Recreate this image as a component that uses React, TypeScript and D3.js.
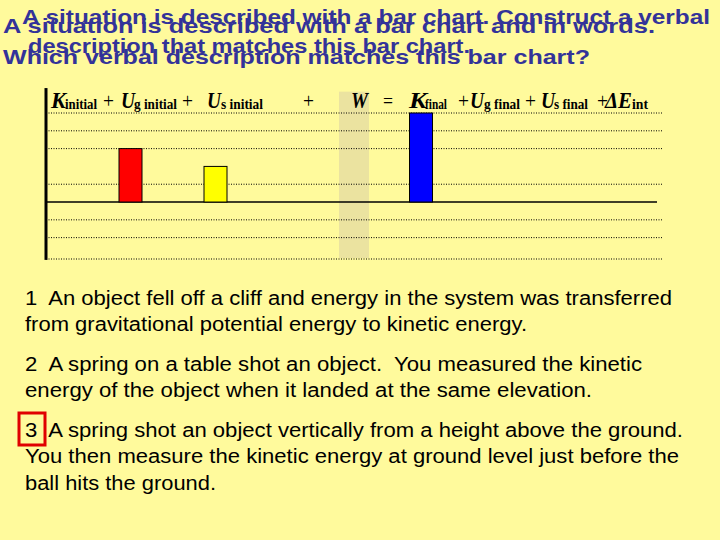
import React, { useRef, useEffect } from 'react';
import * as d3 from 'd3';

// energy bar chart data
const categories = ['Ki', 'Ugi', 'Usi', 'W', 'Kf', 'Ugf', 'Usf', 'dEint'];
const energyValues = [0, 3, 2, 0, 5, 0, 0, 0];
const barColors = ['#ff0000', '#ff0000', '#ffff00', '#000000', '#0000ff', '#000000', '#000000', '#000000'];
const gridValues = [5, 4, 3, 1, -1, -2, -3.2];

// header text pieces: [text, kind]  (main = bold italic symbol, sub = subscript, op = operator)
const headerPieces: [string, string][] = [
  ['K', 'main'], ['initial', 'sub'], ['+', 'op'],
  ['U', 'main'], ['g initial', 'sub'], ['+', 'op'],
  ['U', 'main'], ['s initial', 'sub'], ['+', 'op'],
  ['W', 'main'], ['=', 'op'],
  ['K', 'main'], ['final', 'sub'], ['+', 'op'],
  ['U', 'main'], ['g final', 'sub'], ['+', 'op'],
  ['U', 'main'], ['s final', 'sub'], ['+', 'op'],
  ['\u0394E', 'main'], ['int', 'sub'],
];

const titleBack = [
  'A situation is described with a bar chart and in words.',
  'Which verbal description matches this bar chart?',
];
const titleFront = [
  'A situation is described with a bar chart. Construct a verbal',
  'description that matches this bar chart.',
];

const answerLines = [
  '1  An object fell off a cliff and energy in the system was transferred',
  'from gravitational potential energy to kinetic energy.',
  '2  A spring on a table shot an object.  You measured the kinetic',
  'energy of the object when it landed at the same elevation.',
  '3  A spring shot an object vertically from a height above the ground.',
  'You then measure the kinetic energy at ground level just before the',
  'ball hits the ground.',
];

// layout
const barCenters = [70, 130.5, 215.5, 354, 421, 500, 570, 625];
const headerX = [51, 65, 103, 121, 134, 182, 207, 221, 303, 351, 383, 409, 425, 458, 470, 484, 525, 541, 554, 597, 605, 632];
const headerW = [15, 32, 11, 14, 43, 11, 14, 42, 11, 17, 10, 18, 22, 11, 14, 36, 11, 14, 34, 11, 27, 16];
const titleBackLayout = [{ x: 3, y: 33, w: 652 }, { x: 3, y: 64, w: 587 }];
const titleFrontLayout = [{ x: 22, y: 24, w: 688 }, { x: 28, y: 53, w: 442 }];
const answerLayout = [
  { y: 305, w: 647 }, { y: 331, w: 502 },
  { y: 371, w: 617 }, { y: 397, w: 567 },
  { y: 437, w: 658 }, { y: 463, w: 654 }, { y: 490, w: 191 },
];

const App: React.FC = () => {
  const svgRef = useRef<SVGSVGElement>(null);

  useEffect(() => {
    if (!svgRef.current) return;
    const width = 720;
    const height = 540;
    const svg = d3.select(svgRef.current)
      .attr('width', width)
      .attr('height', height);
    svg.selectAll('*').remove();

    svg.append('rect')
      .attr('width', width).attr('height', height)
      .attr('fill', '#fffa9c');

    //scales
    const xScale = d3.scaleOrdinal<string, number>()
      .domain(categories)
      .range(barCenters);
    const yScale = d3.scaleLinear()
      .domain([-3.2, 5])
      .range([259, 113]);
    const barWidth = 23;
    const left = 46;
    const right = 662;

    //W column shading
    svg.append('rect')
      .attr('x', xScale('W') - 15)
      .attr('width', 30)
      .attr('y', yScale(6.2))
      .attr('height', yScale(-3.15) - yScale(6.2))
      .attr('fill', '#ebe3a0');

    //grid lines
    svg.append('g')
      .selectAll('line')
      .data(gridValues)
      .join('line')
      .attr('x1', left)
      .attr('x2', right)
      .attr('y1', d => yScale(d))
      .attr('y2', d => yScale(d))
      .attr('stroke', '#000')
      .attr('stroke-width', 1)
      .attr('stroke-dasharray', '1,1.5');

    //zero line
    svg.append('line')
      .attr('x1', left).attr('x2', 657)
      .attr('y1', yScale(0)).attr('y2', yScale(0))
      .attr('stroke', '#000')
      .attr('stroke-width', 1.5);

    //vertical axis
    svg.append('line')
      .attr('x1', left).attr('x2', left)
      .attr('y1', yScale(6.4)).attr('y2', yScale(-3.25))
      .attr('stroke', '#000')
      .attr('stroke-width', 3);

    //bars
    const bars = categories.map((c, i) => ({ c, v: energyValues[i], color: barColors[i] }))
      .filter(d => d.v !== 0);
    svg.append('g')
      .selectAll('rect')
      .data(bars)
      .join('rect')
      .attr('x', d => xScale(d.c) - barWidth / 2)
      .attr('width', barWidth)
      .attr('y', d => yScale(Math.max(0, d.v)))
      .attr('height', d => Math.abs(yScale(d.v) - yScale(0)))
      .attr('fill', d => d.color)
      .attr('stroke', '#000')
      .attr('stroke-width', 1);

    //header labels
    const header = svg.append('g').attr('font-family', '"Liberation Serif", "Times New Roman", serif');
    headerPieces.forEach(([t, kind], i) => {
      const txt = header.append('text')
        .attr('x', headerX[i])
        .attr('y', kind === 'sub' ? 109 : 108)
        .attr('fill', '#000')
        .attr('textLength', headerW[i])
        .attr('lengthAdjust', 'spacingAndGlyphs')
        .text(t);
      if (kind === 'main') {
        txt.attr('font-size', 23).attr('font-weight', 'bold').attr('font-style', 'italic');
      } else if (kind === 'sub') {
        txt.attr('font-size', 15).attr('font-weight', 'bold');
      } else {
        txt.attr('font-size', 21);
      }
    });

    //title (two overlapping text boxes)
    const title = svg.append('g')
      .attr('font-family', '"Liberation Sans", Arial, sans-serif')
      .attr('font-weight', 'bold')
      .attr('font-size', 21)
      .attr('fill', '#333399');
    titleBack.forEach((t, i) => {
      title.append('text')
        .attr('x', titleBackLayout[i].x)
        .attr('y', titleBackLayout[i].y)
        .attr('textLength', titleBackLayout[i].w)
        .attr('lengthAdjust', 'spacingAndGlyphs')
        .text(t);
    });
    titleFront.forEach((t, i) => {
      title.append('text')
        .attr('x', titleFrontLayout[i].x)
        .attr('y', titleFrontLayout[i].y)
        .attr('textLength', titleFrontLayout[i].w)
        .attr('lengthAdjust', 'spacingAndGlyphs')
        .text(t);
    });

    //answer choices
    const answers = svg.append('g')
      .attr('font-family', '"Liberation Sans", Arial, sans-serif')
      .attr('font-size', 20)
      .attr('fill', '#000');
    answerLines.forEach((t, i) => {
      answers.append('text')
        .attr('x', 25)
        .attr('y', answerLayout[i].y)
        .attr('textLength', answerLayout[i].w)
        .attr('lengthAdjust', 'spacingAndGlyphs')
        .style('white-space', 'pre')
        .text(t);
    });

    //highlight box around answer 3
    svg.append('rect')
      .attr('x', 19).attr('y', 413)
      .attr('width', 26).attr('height', 32)
      .attr('fill', 'none')
      .attr('stroke', '#e00000')
      .attr('stroke-width', 3);
  }, []);

  return (
    <svg ref={svgRef} style={{ position: 'absolute', left: 0, top: 0, display: 'block' }} />
  );
};

export default App;
